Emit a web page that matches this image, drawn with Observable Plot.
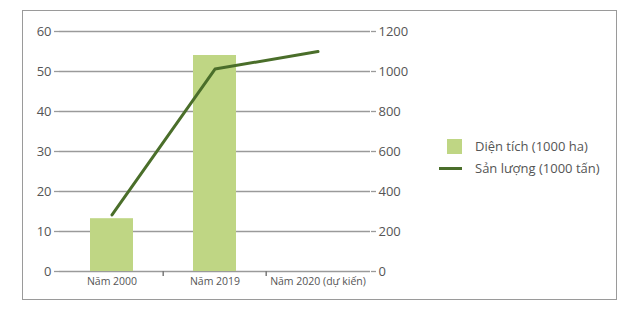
<!DOCTYPE html>
<html>
<head>
<meta charset="utf-8">
<script src="https://cdn.jsdelivr.net/npm/d3@7"></script>
<script src="https://cdn.jsdelivr.net/npm/@observablehq/plot@0.6"></script>
<style>
  body { margin: 0; background: #fff; font-family: "Open Sans", "Liberation Sans", sans-serif; }
  #wrap { position: relative; width: 633px; height: 317px; overflow: hidden; }
  #frame { position: absolute; left: 22px; top: 10px; width: 595px; height: 290px; border: 1.5px solid #9a9a9a; box-sizing: border-box; }
  #legend { position: absolute; left: 439px; top: 135px; font-size: 13px; color: #555; line-height: 22px; }
  .row { display: flex; align-items: center; height: 22px; }
  .sw { width: 23px; display: flex; justify-content: flex-end; margin-right: 13px; }
</style>
</head>
<body>
<div id="wrap">
  <div id="frame"></div>
  <div id="chart"></div>
  <div id="legend"></div>
</div>
<script>
const categories = ["Năm 2000", "Năm 2019", "Năm 2020 (dự kiến)"];
const areaValues = [13.2, 54, null];          // Diện tích (1000 ha)
const outputValues = [283, 1012, 1100];       // Sản lượng (1000 tấn)
const leftTicks = [0, 10, 20, 30, 40, 50, 60];
const rightTicks = [0, 200, 400, 600, 800, 1000, 1200];
const seriesNames = ["Diện tích (1000 ha)", "Sản lượng (1000 tấn)"];
const barColor = "#bfd684";
const lineColor = "#4a6e2a";

const ratio = 1200 / 60;
const bars = categories.map((c, i) => ({cat: c, v: areaValues[i]})).filter(d => d.v != null);
const line = categories.map((c, i) => ({cat: c, v: outputValues[i] / ratio}));
const boundaries = categories.slice(1);

const chart = Plot.plot({
  width: 633,
  height: 317,
  marginLeft: 59,
  marginRight: 263,
  marginTop: 31,
  marginBottom: 46,
  style: {fontFamily: "'Open Sans', 'Liberation Sans', sans-serif", color: "#555", background: "transparent"},
  x: {domain: categories, paddingInner: 0.58, paddingOuter: 0.29, axis: null, label: null},
  y: {domain: [0, 60], axis: null, label: null},
  marks: [
    Plot.ruleY(leftTicks, {stroke: "#9a9a9a", strokeWidth: 1.3}),
    Plot.barY(bars, {x: "cat", y: "v", fill: barColor}),
    Plot.axisY(leftTicks, {anchor: "left", label: null, tickSize: 5, tickPadding: 3, fontSize: 13, stroke: "#9a9a9a", strokeWidth: 1.3, tickFormat: d => String(d)}),
    Plot.axisY(leftTicks, {anchor: "right", label: null, tickSize: 5, tickPadding: 3, fontSize: 13, stroke: "#9a9a9a", strokeWidth: 1.3, tickFormat: d => String(rightTicks[leftTicks.indexOf(d)])}),
    Plot.ruleX([0], {frameAnchor: "left", stroke: "#9a9a9a", strokeWidth: 1.5}),
    Plot.ruleX([0], {frameAnchor: "right", stroke: "#9a9a9a", strokeWidth: 1.5}),
    Plot.axisX(categories, {anchor: "bottom", label: null, tickSize: 0, tickPadding: 6, fontSize: 10.5}),
    Plot.axisX(boundaries, {anchor: "bottom", label: null, tickSize: 5, tickFormat: () => "", dx: -51.8, stroke: "#7a7a7a", strokeWidth: 1.5}),
    Plot.line(line, {x: "cat", y: "v", stroke: lineColor, strokeWidth: 3})
  ]
});
document.getElementById("chart").appendChild(chart);

const legend = document.getElementById("legend");
legend.innerHTML = `
  <div class="row"><div class="sw"><div style="width:15px;height:15px;background:${barColor}"></div></div><span>${seriesNames[0]}</span></div>
  <div class="row"><div class="sw"><div style="width:23px;height:3px;background:${lineColor}"></div></div><span>${seriesNames[1]}</span></div>`;
</script>
</body>
</html>
